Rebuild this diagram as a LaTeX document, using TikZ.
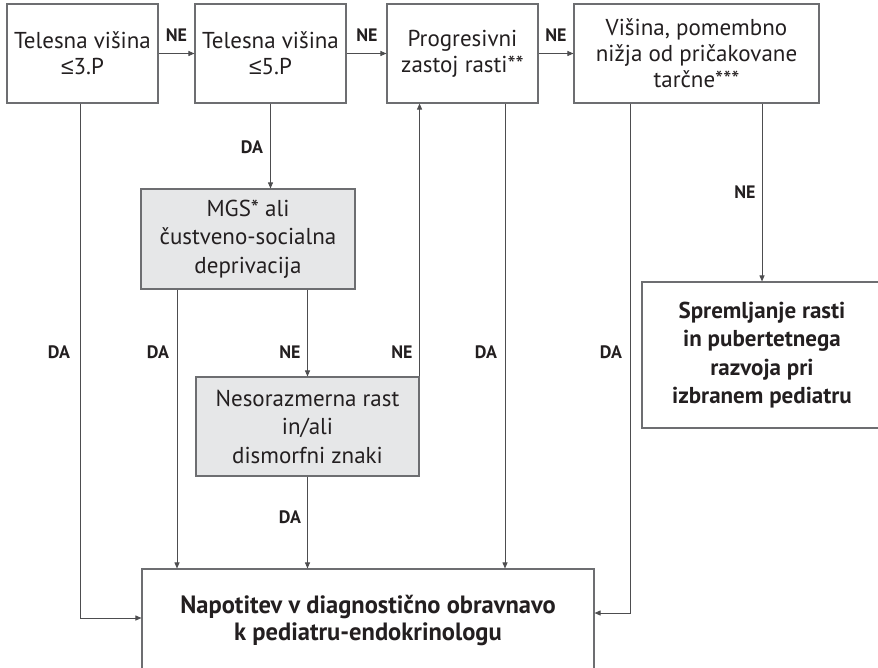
\documentclass[tikz,border=0pt]{standalone}
\usepackage{fontspec}
\setmainfont{PT Sans}
\newfontfamily\condfont[FakeStretch=0.98]{PT Sans}
\newfontfamily\symfont{Liberation Sans}
\usetikzlibrary{arrows.meta}
\definecolor{txt}{HTML}{231F20}
\definecolor{bordc}{HTML}{6D6E71}
\definecolor{linec}{HTML}{4D4D4F}
\definecolor{boxgray}{HTML}{E6E7E8}
\tikzset{
  boxw/.style={draw=bordc, line width=1.1pt, fill=white, text=txt, align=center, inner sep=0pt,
    font=\fontsize{23}{26}\selectfont},
  boxg/.style={boxw, fill=boxgray, font=\fontsize{23}{28.5}\selectfont},
  lbl/.style={text=txt, font=\bfseries\fontsize{18}{20}\selectfont, inner sep=0pt},
  arr/.style={draw=linec, line width=0.9pt, -{Triangle[length=6pt,width=5pt]}},
}
\begin{document}
\begin{tikzpicture}[x=1pt,y=-1pt]
\useasboundingbox (0,0) rectangle (878,668);
\clip (0,0) rectangle (878,668);
% top row
\node[boxw, minimum width=151pt, minimum height=99pt] (b1) at (82.5,53.5) {Telesna višina\\{\symfont ≤}3.P};
\node[boxw, minimum width=151pt, minimum height=99pt] (b2) at (270.5,53.5) {Telesna višina\\{\symfont ≤}5.P};
\node[boxw, minimum width=151pt, minimum height=99pt] (b3) at (462.5,53.5) {Progresivni\\zastoj rasti**};
\node[boxw, minimum width=245pt, minimum height=99pt] (b4) at (696.5,53.5) {Višina, pomembno\\nižja od pričakovane\\tarčne***};
% middle
\node[boxg, minimum width=214pt, minimum height=100pt] (mgs) at (248,239) {MGS* ali\\čustveno-socialna\\deprivacija};
\node[boxg, minimum width=223pt, minimum height=99pt] (nes) at (307.5,426.5) {Nesorazmerna rast\\in/ali\\dismorfni znaki};
\node[boxw, minimum width=240pt, minimum height=146pt, font=\bfseries\fontsize{23}{28.5}\selectfont] (sp) at (762,355) {Spremljanje rasti\\in pubertetnega\\razvoja pri\\izbranem pediatru};
% bottom
\node[boxw, minimum width=452pt, minimum height=103pt, font=\condfont\bfseries\fontsize{25}{27.5}\selectfont] (nap) at (368,620.5) {Napotitev v diagnostično obravnavo\\k pediatru-endokrinologu};
% connectors
\draw[arr] (b1.east) -- (b2.west);
\draw[arr] (b2.east) -- (b3.west);
\draw[arr] (b3.east) -- (b4.west);
\draw[arr] (b2.south) -- (b2.south |- mgs.north);
\draw[arr] ([xshift=-2.5pt]b1.south) |- ([yshift=2.5pt]nap.west);
\draw[arr] ([xshift=-71pt]mgs.south) -- ([xshift=-71pt]mgs.south |- nap.north);
\draw[arr] (nes.north |- mgs.south) -- (nes.north);
\draw[arr] (nes.north east) -- (nes.north east |- b3.south);
\draw[arr] (nes.south) -- (nes.south |- nap.north);
\draw[arr] ([xshift=42.5pt]b3.south) -- ([xshift=42.5pt]b3.south |- nap.north);
\draw[arr] ([xshift=-66.5pt]b4.south) |- ([yshift=7.5pt]nap.east);
\draw[arr] (sp.north |- b4.south) -- (sp.north);
% labels
\node[lbl] (l1) at (176.5,35) {NE};
\node[lbl] (l2) at (367,35) {NE};
\node[lbl] (l3) at (556,35) {NE};
\node[lbl] (l4) at (252,147) {DA};
\node[lbl] (l5) at (745,192) {NE};
\node[lbl] (l6) at (59,352) {DA};
\node[lbl] (l7) at (158,352) {DA};
\node[lbl] (l8) at (290,352) {NE};
\node[lbl] (l9) at (402,352) {NE};
\node[lbl] (l10) at (486,352) {DA};
\node[lbl] (l11) at (611,352) {DA};
\node[lbl] (l12) at (290,517) {DA};
\end{tikzpicture}
\end{document}
